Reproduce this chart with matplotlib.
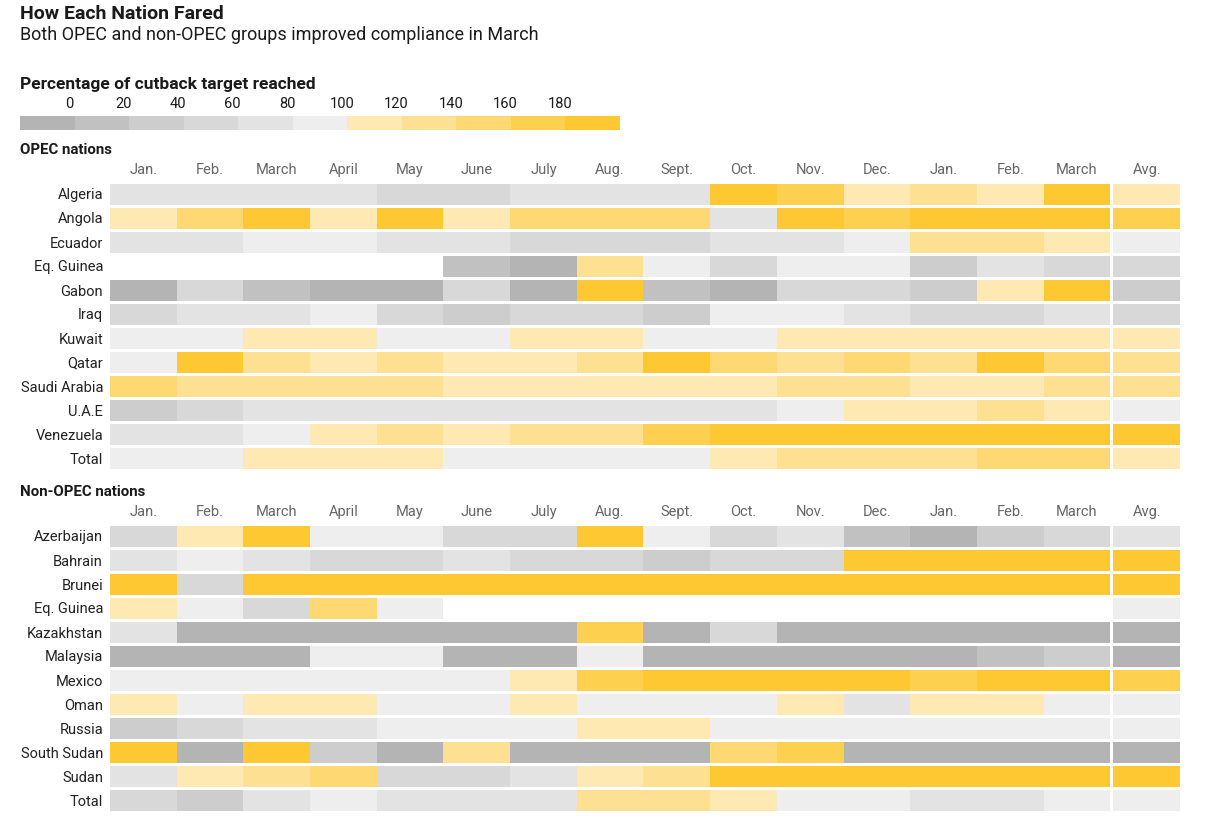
import numpy as np
import matplotlib
matplotlib.use('Agg')
import matplotlib.pyplot as plt

plt.rcParams['font.family'] = ['Roboto', 'DejaVu Sans']

months = ['Jan.', 'Feb.', 'March', 'April', 'May', 'June', 'July', 'Aug.',
          'Sept.', 'Oct.', 'Nov.', 'Dec.', 'Jan.', 'Feb.', 'March']
legend_ticks = [0, 20, 40, 60, 80, 100, 120, 140, 160, 180]
colors = ['#b4b4b4', '#c1c1c1', '#cdcdcd', '#d8d8d8', '#e3e3e3', '#eeeeee',
          '#fee9b3', '#fee092', '#fed872', '#fed050', '#fec832']

nan = np.nan

# percentage of cutback target reached (estimated from the colour bins)
opec_nations = ['Algeria', 'Angola', 'Ecuador', 'Eq. Guinea', 'Gabon', 'Iraq', 'Kuwait',
                'Qatar', 'Saudi Arabia', 'U.A.E', 'Venezuela', 'Total']
opec_values = [
    [70, 70, 70, 70, 50, 50, 70, 70, 70, 200, 170, 110, 130, 110, 200],
    [110, 150, 200, 110, 200, 110, 150, 150, 150, 70, 200, 170, 200, 200, 200],
    [70, 70, 90, 90, 70, 70, 50, 50, 50, 70, 70, 90, 130, 130, 110],
    [nan, nan, nan, nan, nan, 10, -10, 130, 90, 50, 90, 90, 30, 70, 50],
    [-10, 50, 10, -10, -10, 50, -10, 200, 10, -10, 50, 50, 30, 110, 200],
    [50, 70, 70, 90, 50, 30, 50, 50, 30, 90, 90, 70, 50, 50, 70],
    [90, 90, 110, 110, 90, 90, 110, 110, 90, 90, 110, 110, 110, 110, 110],
    [90, 200, 130, 110, 130, 110, 110, 130, 200, 150, 130, 150, 130, 200, 150],
    [150, 130, 130, 130, 130, 110, 110, 110, 110, 110, 130, 130, 110, 110, 130],
    [30, 50, 70, 70, 70, 70, 70, 70, 70, 70, 90, 110, 110, 130, 110],
    [70, 70, 90, 110, 130, 110, 130, 130, 170, 200, 200, 200, 200, 200, 200],
    [90, 90, 110, 110, 110, 90, 90, 90, 90, 110, 130, 130, 130, 150, 150],
]
opec_avg = [110, 170, 90, 50, 30, 50, 110, 130, 130, 90, 200, 110]

non_opec_nations = ['Azerbaijan', 'Bahrain', 'Brunei', 'Eq. Guinea', 'Kazakhstan', 'Malaysia',
                    'Mexico', 'Oman', 'Russia', 'South Sudan', 'Sudan', 'Total']
non_opec_values = [
    [50, 110, 200, 90, 90, 50, 50, 200, 90, 50, 70, 10, -10, 30, 50],
    [70, 90, 70, 50, 50, 70, 50, 50, 30, 50, 50, 200, 200, 200, 200],
    [200, 50, 200, 200, 200, 200, 200, 200, 200, 200, 200, 200, 200, 200, 200],
    [110, 90, 50, 150, 90, nan, nan, nan, nan, nan, nan, nan, nan, nan, nan],
    [70, -10, -10, -10, -10, -10, -10, 170, -10, 50, -10, -10, -10, -10, -10],
    [-10, -10, -10, 90, 90, -10, -10, 90, -10, -10, -10, -10, -10, 10, 30],
    [90, 90, 90, 90, 90, 90, 110, 170, 200, 200, 200, 200, 170, 200, 200],
    [110, 90, 110, 110, 90, 90, 110, 90, 90, 90, 110, 70, 110, 110, 90],
    [30, 50, 70, 70, 90, 90, 90, 110, 110, 90, 90, 90, 90, 90, 90],
    [200, -10, 200, 30, -10, 130, -10, -10, -10, 150, 170, -10, -10, -10, -10],
    [70, 110, 130, 150, 50, 50, 70, 110, 130, 200, 200, 200, 200, 200, 200],
    [50, 30, 70, 90, 70, 70, 70, 130, 130, 110, 90, 90, 70, 70, 90],
]
non_opec_avg = [70, 200, 200, 90, -10, -10, 170, 90, 90, -10, 200, 90]

W, H = 1231, 824
fig = plt.figure(figsize=(W / 100, H / 100), dpi=100)
fig.patch.set_facecolor('white')


def px_rect(x0, y0, x1, y1):
    return [x0 / W, 1 - y1 / H, (x1 - x0) / W, (y1 - y0) / H]


def cell_color(v):
    if np.isnan(v):
        return 'none'
    return colors[int(np.digitize(v, legend_ticks))]


gap = 0.045


def draw_section(top, title, nations, values, avg):
    n = len(nations)
    ax = fig.add_axes(px_rect(110, top, 1180, top + 24 * n))
    vals = np.array(values, dtype=float)
    rows = np.arange(n)
    for j in range(vals.shape[1]):
        ax.barh(rows, 1, left=j, height=0.875, align='center',
                color=[cell_color(v) for v in vals[:, j]], linewidth=0)
    ax.barh(rows, 1, left=vals.shape[1] + gap, height=0.875, align='center',
            color=[cell_color(v) for v in avg], linewidth=0)
    ax.set_xlim(0, vals.shape[1] + gap + 1)
    ax.set_ylim(n - 0.5, -0.5)
    for s in ax.spines.values():
        s.set_visible(False)
    ax.set_xticks([])
    ax.set_yticks(rows)
    ax.set_yticklabels(nations, fontsize=10.5, color='#222222')
    ax.tick_params(axis='y', length=0, pad=5)
    labels = months + ['Avg.']
    for j, lab in enumerate(labels):
        x = j + 0.5 if j < len(months) else len(months) + gap + 0.5
        ax.text(x, -1.0, lab, ha='center', va='center', fontsize=10.5,
                color='#666666', clip_on=False)
    fig.text(20 / W, 1 - (top - 32) / H, title, ha='left', va='center',
             fontsize=10.8, fontweight='bold', color='#1a1a1a')


# titles
fig.text(20 / W, 1 - 14 / H, 'How Each Nation Fared', ha='left', va='center',
         fontsize=14, fontweight='bold', color='#1a1a1a')
fig.text(20 / W, 1 - 35 / H, 'Both OPEC and non-OPEC groups improved compliance in March',
         ha='left', va='center', fontsize=13, color='#1a1a1a')
fig.text(20 / W, 1 - 84 / H, 'Percentage of cutback target reached', ha='left', va='center',
         fontsize=12.5, fontweight='bold', color='#1a1a1a')

# legend bar
lax = fig.add_axes(px_rect(20, 116, 620, 130))
lax.bar(np.arange(len(colors)), 1, width=1, align='edge', color=colors, linewidth=0)
lax.set_xlim(0, len(colors))
lax.set_ylim(0, 1)
lax.axis('off')
for i, t in enumerate(legend_ticks):
    lax.text(i + 1 - 0.1, 1 + 12 / 14, str(t), ha='center', va='center',
             fontsize=10.5, color='#1a1a1a', clip_on=False)

draw_section(182, 'OPEC nations', opec_nations, opec_values, opec_avg)
draw_section(524, 'Non-OPEC nations', non_opec_nations, non_opec_values, non_opec_avg)

fig.savefig('out.png', dpi=100)
